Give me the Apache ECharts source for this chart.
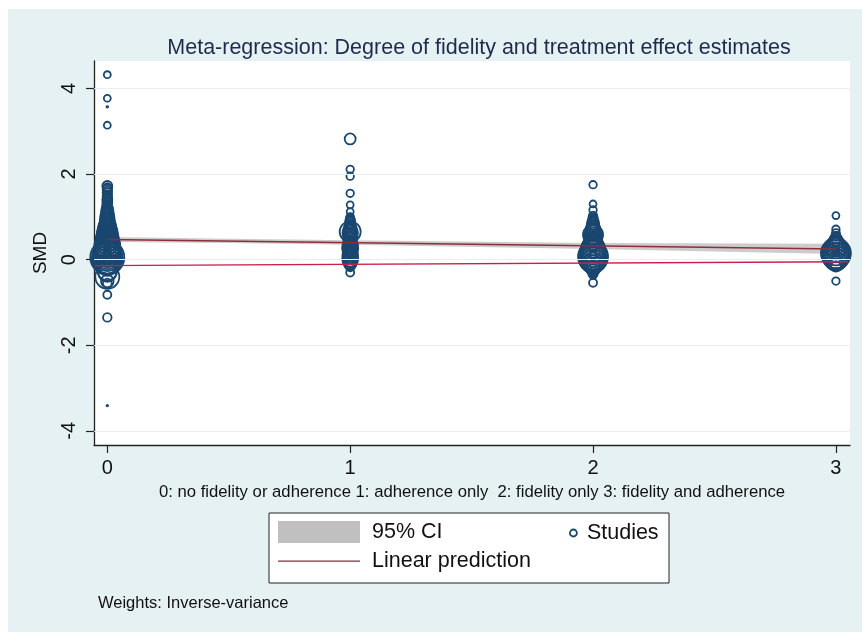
<!DOCTYPE html>
<html>
<head>
<meta charset="utf-8">
<script src="https://cdn.jsdelivr.net/npm/echarts@6/dist/echarts.min.js"></script>
<style>
html,body{margin:0;padding:0;background:#ffffff;}
#chart{width:862px;height:632px;}
</style>
</head>
<body>
<div id="chart"></div>
<script>
// ---- Data ----
const xTicks = [0, 1, 2, 3];
const yTicks = [-4, -2, 0, 2, 4];

// Studies by fidelity category: SMD and inverse-variance weight
const g0Smd = [4.32, 3.77, 3.57, 3.14, -3.41, -1.35, -0.82, -0.40, -0.31, -0.50, -0.25, -0.55,
  1.72, 1.68, 1.64, 1.60, 1.56, 1.52, 1.48, 1.44, 1.40, 1.36, 1.32, 1.28, 1.24, 1.20,
  1.16, 1.12, 1.08, 1.04, 1.00, 0.96, 0.92, 0.88, 0.84, 0.80,
  0.77, 0.74, 0.71, 0.68, 0.65, 0.62, 0.59, 0.56, 0.53, 0.50, 0.47, 0.44, 0.41, 0.38, 0.35, 0.32,
  0.29, 0.26, 0.23, 0.20, 0.17, 0.14, 0.11, 0.08, 0.05, 0.02, -0.01, -0.04, -0.08, -0.12, -0.16, -0.20,
  0.10, 0.30, 0.50, 0.70, 0.90, 1.10, 0.20, 0.40, 0.60, 0.80, 1.00, 1.30, 0.00];
const g0W = [12, 12, 0.6, 12, 0.6, 18, 16, 144, 80, 40, 100, 20,
  25, 20, 22, 20, 22, 20, 22, 20, 25, 20, 25, 22, 25, 28,
  36, 30, 40, 36, 50, 44, 56, 50, 64, 60,
  80, 70, 90, 80, 100, 90, 110, 100, 121, 110, 130, 120, 144, 130, 160, 150,
  170, 160, 180, 170, 190, 180, 200, 220, 289, 240, 200, 150, 120, 100, 80, 60,
  10, 12, 12, 14, 12, 12, 14, 14, 16, 12, 14, 12, 12];

const g1Smd = [2.82, 2.11, 1.95, 1.55, 1.28, 1.12, 1.00, -0.30,
  0.95, 0.91, 0.87, 0.83, 0.79, 0.75, 0.71, 0.67, 0.65, 0.62, 0.58, 0.54, 0.50, 0.46, 0.42,
  0.38, 0.34, 0.30, 0.26, 0.22, 0.18, 0.14, 0.10, 0.06, 0.02, -0.02, -0.06, -0.10, -0.14, -0.18,
  0.40, 0.20, 0.80];
const g1W = [30, 14, 14, 14, 12, 12, 14, 16,
  20, 22, 25, 28, 30, 36, 40, 50, 110, 60, 50, 44, 40, 44, 40,
  50, 56, 60, 64, 56, 50, 56, 60, 56, 64, 56, 44, 36, 25, 16,
  12, 12, 12];

const g2Smd = [1.75, 1.30, 1.16, -0.54,
  1.02, 0.96, 0.92, 0.88, 0.84, 0.80, 0.76, 0.72, 0.68, 0.64, 0.58, 0.54, 0.50, 0.46, 0.42,
  0.38, 0.34, 0.30, 0.26, 0.22, 0.18, 0.14, 0.10, 0.07, 0.04, 0.00, -0.04, -0.08, -0.12,
  -0.16, -0.20, -0.25, -0.30, -0.35, 0.30, 0.60, 0.90, 0.10];
const g2W = [14, 12, 14, 16,
  18, 22, 25, 30, 36, 36, 44, 50, 56, 64, 100, 80, 70, 60, 70,
  80, 100, 120, 140, 150, 160, 180, 200, 225, 200, 180, 140, 110, 90,
  70, 50, 36, 25, 18, 12, 14, 12, 16];

const g3Smd = [1.03, 0.71, 0.62, -0.50,
  0.55, 0.50, 0.46, 0.42, 0.38, 0.34, 0.30, 0.26, 0.22, 0.18, 0.15, 0.12, 0.08, 0.04, 0.00,
  -0.04, -0.08, -0.12, -0.16, 0.20, 0.10, 0.30];
const g3W = [12, 14, 16, 14,
  20, 30, 40, 50, 64, 80, 100, 120, 150, 180, 225, 200, 180, 150, 120,
  90, 64, 40, 25, 12, 14, 12];

// Linear prediction and 95% CI
const predX = [0, 3];
const predY = [0.47, 0.25];
const ciX = [0, 0.5, 1, 2, 3];
const ciLow = [0.41, 0.39, 0.35, 0.25, 0.13];
const ciHigh = [0.53, 0.49, 0.45, 0.39, 0.37];

// Second (unlabelled) fitted line
const line2X = [-0.05, 3.05];
const line2Y = [-0.14, -0.05];

// ---- Build ----
const studies = [];
[[0, g0Smd, g0W], [1, g1Smd, g1W], [2, g2Smd, g2W], [3, g3Smd, g3W]].forEach(function (g) {
  for (let i = 0; i < g[1].length; i++) studies.push([g[0], g[1][i], g[2][i]]);
});

const bandPts = [];
for (let i = 0; i < ciX.length; i++) bandPts.push([ciX[i], ciHigh[i]]);
for (let i = ciX.length - 1; i >= 0; i--) bandPts.push([ciX[i], ciLow[i]]);

const navy = '#1a476f';
const font = 'Liberation Sans, Arial, Helvetica, sans-serif';
const lineIcon = 'path://M0,0h0.01v0.01h-0.01Z M0,10.3h100v1.5h-100Z M0,21.99h0.01v0.01h-0.01Z';

const chart = echarts.init(document.getElementById('chart'), null, {renderer: 'canvas'});
chart.setOption({
  backgroundColor: '#ffffff',
  animation: false,
  textStyle: {fontFamily: font},
  graphic: [
    {type: 'rect', z: -10, shape: {x: 8, y: 9, width: 854, height: 623}, style: {fill: '#e6f1f4'}},
    {type: 'rect', z: 10, shape: {x: 269, y: 513, width: 400, height: 70},
      style: {fill: '#ffffff', stroke: '#222222', lineWidth: 1}},
    {type: 'text', z: 20, left: 98, top: 595,
      style: {text: 'Weights: Inverse-variance', fontSize: 16.5, fill: '#111111', fontFamily: font}}
  ],
  title: {
    text: 'Meta-regression: Degree of fidelity and treatment effect estimates',
    left: 474, top: 32, textAlign: 'center',
    textStyle: {fontSize: 21.5, fontWeight: 'normal', color: '#1d2c4c', fontFamily: font}
  },
  legend: [
    {
      data: [{name: '95% CI', icon: 'rect', itemStyle: {color: '#c0c0c0'}},
        {name: 'Linear prediction', icon: lineIcon, itemStyle: {color: '#8f2d3c'}}],
      orient: 'vertical', left: 278, top: 521, padding: 0, itemGap: 7,
      itemWidth: 82, itemHeight: 22, z: 30,
      textStyle: {fontSize: 21.5, color: '#111111', fontFamily: font, padding: [4, 0, 0, 7]}
    },
    {
      data: [{name: 'Studies', icon: 'circle', itemStyle: {color: 'rgba(0,0,0,0)', borderColor: navy, borderWidth: 1.8}}],
      left: 569, top: 522, padding: 0,
      itemWidth: 7, itemHeight: 7, z: 30,
      textStyle: {fontSize: 21.5, color: '#111111', fontFamily: font, padding: [3, 0, 0, 5]}
    }
  ],
  grid: {left: 94, top: 61, right: 12, bottom: 187, show: true, backgroundColor: '#ffffff', borderWidth: 0},
  xAxis: {
    type: 'value', min: -0.0548, max: 3.058,
    name: '0: no fidelity or adherence 1: adherence only  2: fidelity only 3: fidelity and adherence',
    nameLocation: 'middle', nameGap: 39,
    nameTextStyle: {fontSize: 16.7, color: '#111111', fontFamily: font},
    axisLine: {show: true, onZero: false, lineStyle: {color: '#222222', width: 1.3}},
    axisTick: {show: true, length: 8, customValues: xTicks, lineStyle: {color: '#222222', width: 1.2}},
    axisLabel: {customValues: xTicks, fontSize: 20, color: '#111111', margin: 13, fontFamily: font},
    splitLine: {show: false}
  },
  yAxis: {
    type: 'value', min: -4.33, max: 4.64,
    name: 'SMD', nameLocation: 'middle', nameGap: 44, nameRotate: 90,
    nameTextStyle: {fontSize: 19, color: '#111111', fontFamily: font},
    axisLine: {show: true, onZero: false, lineStyle: {color: '#222222', width: 1.3}},
    axisTick: {show: true, length: 8, customValues: yTicks, lineStyle: {color: '#222222', width: 1.2}},
    axisLabel: {customValues: yTicks, rotate: 90, fontSize: 20, color: '#111111', margin: 15, fontFamily: font},
    splitLine: {show: false}
  },
  series: [
    {
      name: 'grid', type: 'line', data: [], silent: true,
      markLine: {
        silent: true, symbol: 'none', label: {show: false},
        lineStyle: {color: '#e6eff2', width: 1, type: 'solid'},
        data: yTicks.map(function (v) { return {yAxis: v}; })
      }
    },
    {
      name: '95% CI', type: 'custom', z: 3,
      itemStyle: {color: '#c0c0c0'},
      data: [0],
      renderItem: function (params, api) {
        const pts = bandPts.map(function (p) { return api.coord(p); });
        return {type: 'polygon', shape: {points: pts}, style: {fill: 'rgba(170,170,170,0.6)'}};
      }
    },
    {
      name: 'Studies', type: 'scatter', z: 4,
      symbol: 'circle',
      symbolSize: function (v) { return 2 * Math.sqrt(v[2]); },
      itemStyle: {color: 'rgba(0,0,0,0)', borderColor: navy, borderWidth: 1.8, opacity: 1},
      data: studies
    },
    {
      name: 'Linear prediction', type: 'line', z: 5, symbol: 'none',
      lineStyle: {color: '#8f2d3c', width: 1.6},
      itemStyle: {color: '#8f2d3c'},
      data: predX.map(function (x, i) { return [x, predY[i]]; })
    },
    {
      name: 'Fit2', type: 'line', z: 5, symbol: 'none',
      lineStyle: {color: '#c8204a', width: 1.4},
      data: line2X.map(function (x, i) { return [x, line2Y[i]]; })
    }
  ]
});
</script>
</body>
</html>
